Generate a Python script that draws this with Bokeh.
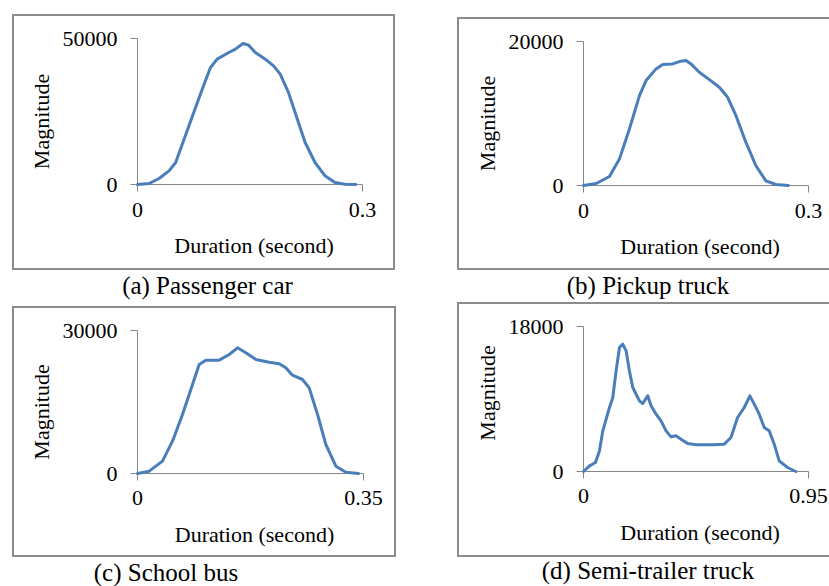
import math
from bokeh.plotting import figure
from bokeh.models import FixedTicker, Div, Range1d, CustomJSTickFormatter
from bokeh.core.properties import value
from bokeh.layouts import column, row
from bokeh.embed import file_html
from bokeh.resources import INLINE

FONT = "Liberation Serif"
LINE = "#4a7ebb"
AXIS = "#868686"
BOX = "#8c8c8c"

# ---- data ----
car_t = [0, 0.0155, 0.0288, 0.0420, 0.0509, 0.0686, 0.0863, 0.0973, 0.1062, 0.1217, 0.1305,
         0.1407, 0.1482, 0.1571, 0.1704, 0.1814, 0.1903, 0.2013, 0.2146, 0.2235, 0.2367,
         0.2500, 0.2633, 0.2765, 0.2912]
car_m = [0, 342, 2055, 4680, 7534, 20091, 32648, 40068, 42922, 45205, 46347,
         48288, 47717, 45205, 42922, 40639, 37785, 31507, 21233, 14384, 7534,
         2968, 685, 114, 0]

pickup_t = [0, 0.0169, 0.0346, 0.0479, 0.0612, 0.0746, 0.0834, 0.0967, 0.1056, 0.1189, 0.1278,
            0.1367, 0.1433, 0.1544, 0.1678, 0.1811, 0.1922, 0.2033, 0.2166, 0.2299, 0.2432,
            0.2565, 0.2734]
pickup_m = [0, 278, 1253, 3666, 7842, 12482, 14570, 16195, 16798, 16891, 17216,
            17355, 16891, 15731, 14710, 13643, 12250, 9698, 5986, 2738, 650,
            139, 0]

bus_t = [0, 0.0181, 0.0387, 0.0542, 0.0697, 0.0852, 0.0955, 0.1058, 0.1265, 0.1420, 0.1549,
         0.1678, 0.1833, 0.2039, 0.2194, 0.2297, 0.2400, 0.2555, 0.2659, 0.2788, 0.2917,
         0.3072, 0.3227, 0.3423]
bus_m = [0, 490, 2587, 6783, 12378, 18671, 22867, 23776, 23776, 24965, 26364,
         25315, 23916, 23357, 23007, 22168, 20629, 19720, 17972, 12378, 6084,
         1538, 280, 0]

semi_t = [0, 0.0253, 0.0506, 0.0675, 0.0815, 0.1096, 0.1237, 0.1377, 0.1518, 0.1658, 0.1799,
          0.1939, 0.2080, 0.2361, 0.2501, 0.2712, 0.2853, 0.3064, 0.3274, 0.3485, 0.3696,
          0.3907, 0.4118, 0.4399, 0.4750, 0.5453, 0.5944, 0.6225, 0.6506, 0.6787, 0.7026,
          0.7209, 0.7420, 0.7631, 0.7841, 0.8052, 0.8263, 0.8614, 0.8966]
semi_m = [0, 703, 1117, 2566, 5048, 7945, 9186, 12497, 15393, 15807, 14979,
          12497, 10428, 8772, 8441, 9393, 8152, 7117, 6290, 5048, 4303,
          4428, 4014, 3476, 3310, 3310, 3393, 4221, 6703, 7945, 9393,
          8359, 7117, 5462, 5048, 3393, 1324, 497, 0]

x_ticks = [[0, 0.3], [0, 0.3], [0, 0.35], [0, 0.95]]
y_ticks = [[0, 50000], [0, 20000], [0, 30000], [0, 18000]]
captions = ["(a) Passenger car", "(b) Pickup truck", "(c) School bus", "(d) Semi-trailer truck"]
x_title = "Duration (second)"
y_title = "Magnitude"


def fmt(v):
    return "%g" % v


def add_texts(p, xt, yt, xtick_dy, mag_dy):
    # (x, y, text, align, angle, dx, dy) -- dx/dy are pixel offsets from the tick anchor
    items = []
    for v in xt:
        items.append((v, yt[0], fmt(v), "center", 0.0, 0, xtick_dy))
    for v in yt:
        items.append((xt[0], v, fmt(v), "right", 0.0, -20, 0))
    items.append(((xt[0] + xt[-1]) / 2, yt[0], x_title, "center", 0.0, 4, 61))
    items.append((xt[0], (yt[0] + yt[-1]) / 2, y_title, "center", math.pi / 2, -96, mag_dy))
    for (x, y, txt, al, ang, dx, dy) in items:
        p.text(x=[x], y=[y], text=[txt], text_font=value(FONT), text_font_size="22px",
               text_color="black", text_align=al, text_baseline="alphabetic", angle=ang,
               x_offset=dx, y_offset=dy, level="overlay")


def panel(t, m, xt, yt, w, h, borders, box_css, margin, xtick_dy, mag_dy):
    p = figure(width=w, height=h, x_range=Range1d(xt[0], xt[-1]), y_range=Range1d(yt[0], yt[-1]),
               output_backend="svg", toolbar_location=None, tools="",
               min_border_left=borders[0], min_border_right=borders[1],
               min_border_top=borders[2], min_border_bottom=borders[3])
    p.line(t, m, line_color=LINE, line_width=3, line_join="round", line_cap="round",
           level="overlay")
    p.grid.visible = False
    p.outline_line_color = None
    p.background_fill_color = "white"
    p.border_fill_color = "white"
    blank = CustomJSTickFormatter(code="return ''")
    for ax, ticks in ((p.xaxis[0], xt), (p.yaxis[0], yt)):
        ax.ticker = FixedTicker(ticks=ticks)
        ax.formatter = blank
        ax.axis_line_color = AXIS
        ax.major_tick_line_color = AXIS
        ax.minor_tick_line_color = None
        ax.major_tick_in = 0
        ax.major_tick_out = 7
        ax.major_label_standoff = 0
    add_texts(p, xt, yt, xtick_dy, mag_dy)
    p.styles = box_css
    p.margin = margin
    return p


def caption(text, w, h, pad_top, shift, margin):
    html = ('<div style="font-family:\'Liberation Serif\';font-size:25px;line-height:25px;'
            'position:relative;left:%dpx;width:%dpx;text-align:center;'
            'white-space:nowrap;padding-top:%dpx;color:black;">%s</div>') % (shift, w, pad_top, text)
    return Div(text=html, width=w, height=h, margin=margin)


full_box = {"border": "2px solid " + BOX, "box-sizing": "border-box"}
open_box = {"border-top": "2px solid " + BOX, "border-left": "2px solid " + BOX,
            "border-bottom": "2px solid " + BOX, "box-sizing": "border-box"}

pa = panel(car_t, car_m, x_ticks[0], y_ticks[0], 383, 256, (123, 34, 22, 88), full_box,
           (14, 0, 0, 12), 25, 10)
ca = caption(captions[0], 383, 36, 3, 4, (0, 0, 0, 12))
pc = panel(bus_t, bus_m, x_ticks[2], y_ticks[2], 384, 251, (123, 35, 22, 86), full_box,
           (0, 0, 0, 12), 24, 10)
cc = caption(captions[2], 384, 29, 3, -38, (0, 0, 0, 12))

pb = panel(pickup_t, pickup_m, x_ticks[1], y_ticks[1], 372, 253, (124, 23, 22, 87), open_box,
           (17, 0, 0, 61), 25, 10)
cb = caption(captions[1], 372, 32, 3, 5, (0, 0, 0, 61))
pd = panel(semi_t, semi_m, x_ticks[3], y_ticks[3], 372, 255, (124, 23, 22, 88), open_box,
           (0, 0, 0, 61), 24, -6)
cd = caption(captions[3], 372, 29, 1, 5, (0, 0, 0, 61))

left = column(pa, ca, pc, cc, spacing=0, margin=0)
right = column(pb, cb, pd, cd, spacing=0, margin=0)
layout = row(left, right, spacing=0, margin=0)

open("out.html", "w").write(file_html(layout, INLINE))
